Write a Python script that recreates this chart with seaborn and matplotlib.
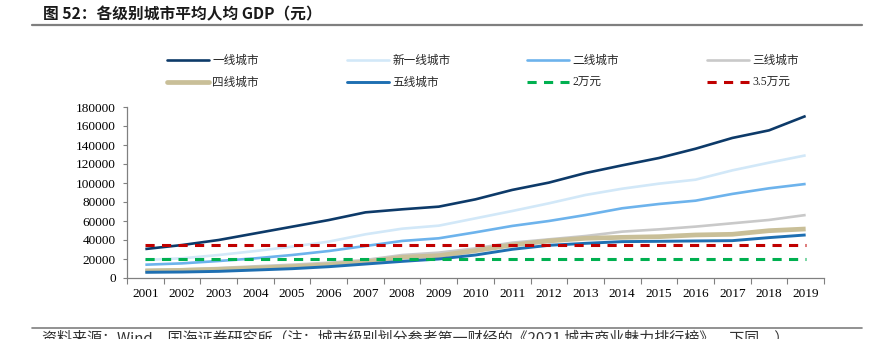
import matplotlib
matplotlib.use('Agg')
import matplotlib.pyplot as plt
import seaborn as sns
import pandas as pd
import numpy as np
from matplotlib.lines import Line2D

years = [str(y) for y in range(2001, 2020)]
tier1 = [30500, 34700, 40000, 47000, 54000, 61000, 69100, 72300, 75100, 82800,
         92700, 100400, 110500, 118600, 126300, 136100, 147400, 155400, 170500]
new_tier1 = [19000, 20700, 24200, 28400, 33000, 38300, 46000, 51900, 55100, 62800,
             70500, 78600, 87400, 94000, 99300, 103500, 113300, 121400, 129100]
tier2 = [14000, 15400, 17900, 20700, 24200, 28400, 33700, 39000, 41800, 48100,
         54800, 60000, 66300, 73400, 77900, 81400, 88500, 94400, 99000]
tier3 = [8400, 9100, 10500, 12300, 14000, 16100, 19000, 24200, 26700, 31200,
         37200, 40700, 44200, 48800, 51200, 54100, 57600, 61100, 66300]
tier4 = [7400, 8100, 9100, 10500, 11900, 14000, 16800, 21800, 23500, 28800,
         34700, 39000, 41800, 42800, 43500, 45300, 46000, 49800, 51600]
tier5 = [6000, 6300, 7000, 8400, 9800, 11900, 14700, 17500, 20000, 24200,
         30200, 34400, 36500, 38300, 38600, 39000, 39300, 42500, 45300]
ref_20k = [20000] * len(years)
ref_35k = [35000] * len(years)

labels = ['一线城市', '新一线城市', '二线城市', '三线城市', '四线城市', '五线城市', '2万元', '3.5万元']
series = [tier1, new_tier1, tier2, tier3, tier4, tier5, ref_20k, ref_35k]
colors = ['#0D3A69', '#D2E8F8', '#6DB3EC', '#C9C9C9', '#C9BF98', '#1E6FB2', '#00B050', '#C00000']
widths = [1.9, 1.9, 1.9, 1.9, 3.4, 2.1, 2.2, 2.2]
dashed = [False] * 6 + [True, True]

sns.set_theme(style='white')
plt.rcParams['font.family'] = ['Liberation Serif', 'Noto Sans CJK SC']

fig = plt.figure(figsize=(8.95, 3.39), dpi=100)
ax = fig.add_axes([127 / 895, 1 - 278 / 339, (824 - 127) / 895, (278 - 107) / 339])

pos = np.arange(len(years))
handles = []
for lab, vals, c, w, d in zip(labels, series, colors, widths, dashed):
    df = pd.DataFrame({'x': pos, 'y': vals})
    sns.lineplot(data=df, x='x', y='y', ax=ax, color=c, linewidth=w, legend=False)
    ln = ax.lines[-1]
    ln.set_solid_capstyle('butt')
    if d:
        ln.set_linestyle((0, (3.0, 2.4)))
    h = Line2D([], [], color=c, linewidth=w)
    if d:
        h.set_linestyle((0, (3.0, 2.4)))
    handles.append(h)

ax.set_xlim(-0.5, len(years) - 0.5)
ax.set_ylim(0, 180000)
ax.set_yticks(np.arange(0, 180001, 20000))
ax.set_yticklabels([str(v) for v in range(0, 180001, 20000)])
ax.set_xticks(pos)
ax.set_xticklabels(years)
ax.set_xticks(np.arange(-0.5, len(years), 1), minor=True)
ax.set_xlabel('')
ax.set_ylabel('')
ax.tick_params(axis='x', which='major', length=0, pad=7, labelsize=9.5, colors='black')
ax.tick_params(axis='x', which='minor', length=4, width=0.8, color='#808080', direction='out', bottom=True)
ax.tick_params(axis='y', which='major', length=3, width=0.8, color='#808080', direction='out', left=True,
               pad=5, labelsize=9.5, colors='black')
for s in ['top', 'right']:
    ax.spines[s].set_visible(False)
for s in ['left', 'bottom']:
    ax.spines[s].set_color('#808080')
    ax.spines[s].set_linewidth(0.9)
ax.grid(False)

# Legend: 4 columns, 2 rows, one legend per column
col_x = [167, 347, 527, 707]
for i in range(4):
    hs = [handles[i], handles[i + 4]]
    ls = [labels[i], labels[i + 4]]
    fig.legend(hs, ls, loc='upper left', bbox_to_anchor=(col_x[i] / 895, 1 - 55 / 339),
               bbox_transform=fig.transFigure, frameon=False, borderpad=0, borderaxespad=0,
               handlelength=3.6, handletextpad=0.3, labelspacing=0.85,
               prop={'family': ['Liberation Serif', 'Noto Sans CJK SC'], 'size': 8.4})

# Title
fig.text(43 / 895, 1 - 14 / 339, '图 52：各级别城市平均人均 GDP（元）', ha='left', va='center',
         fontsize=11.3, fontweight='bold', family=['Noto Sans CJK SC', 'DejaVu Sans'], color='#1a1a1a')
fig.add_artist(Line2D([32 / 895, 862 / 895], [1 - 25 / 339, 1 - 25 / 339], transform=fig.transFigure,
                      color='#7f7f7f', linewidth=1.6))
fig.add_artist(Line2D([32 / 895, 862 / 895], [1 - 328 / 339, 1 - 328 / 339], transform=fig.transFigure,
                      color='#7f7f7f', linewidth=1.2))
fig.text(42 / 895, 1 - 331 / 339,
         '资料来源：Wind，国海证券研究所（注：城市级别划分参考第一财经的《2021 城市商业魅力排行榜》，下同。）',
         ha='left', va='top', fontsize=10.8, family=['Noto Sans CJK SC', 'DejaVu Sans'], color='#333333')

fig.savefig('out.png', dpi=100)
